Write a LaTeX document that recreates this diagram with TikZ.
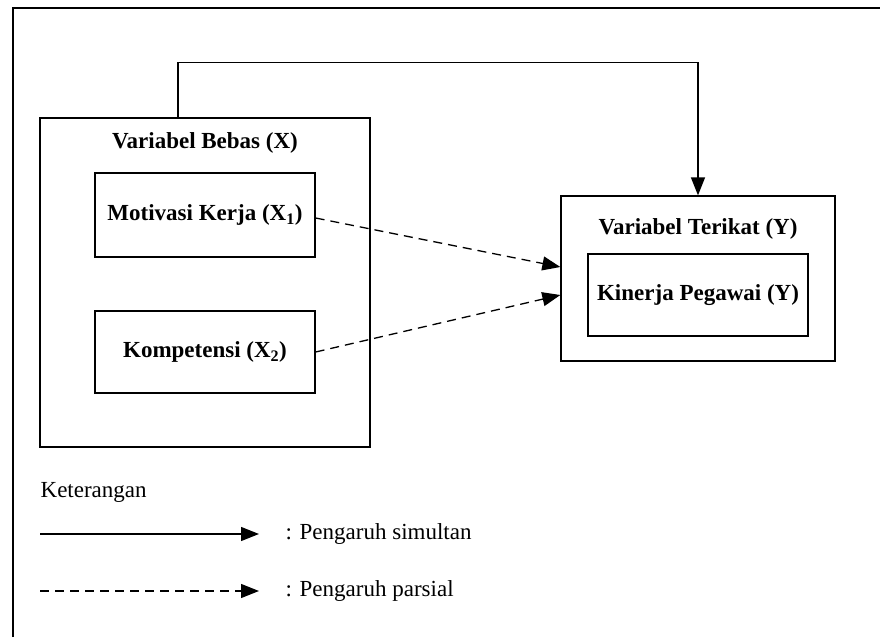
\documentclass[tikz,border=0pt]{standalone}
\usepackage{fontspec}
\setmainfont{Liberation Serif}
\usetikzlibrary{arrows.meta,positioning,calc}

\begin{document}
\begin{tikzpicture}[x=1pt,y=-1pt,>={Triangle[length=18pt,width=14pt]},line width=1.3pt,
  font=\fontsize{23}{27}\selectfont,
  box/.style={draw,minimum width=220pt,minimum height=84pt,inner sep=0pt,font=\fontsize{23}{27}\selectfont\bfseries},
  frame/.style={draw,inner sep=0pt},
  head/.style={font=\fontsize{23}{27}\selectfont\bfseries,inner sep=0pt},
  lab/.style={anchor=west,inner sep=0pt},
  dsh/.style={dash pattern=on 9pt off 6pt}]
\useasboundingbox (0,0) rectangle (880,637);
\draw (13,637) -- (13,8) -- (880,8);
% variabel bebas
\node (xbox) [frame,minimum width=330pt,minimum height=329pt] at (205,282.5) {};
\node (xhead) [head] at (205,143) {Variabel Bebas (X)};
\node (mot) [box] at (205,215) {Motivasi Kerja (X\textsubscript{1})};
\node (komp) [box,minimum height=82pt] at (205,352) {Kompetensi (X\textsubscript{2})};
% variabel terikat
\node (ybox) [frame,minimum width=274pt,minimum height=165pt] at (698,278.5) {};
\node (yhead) [head] at (698,229) {Variabel Terikat (Y)};
\node (kin) [box,minimum height=82pt] at (698,295) {Kinerja Pegawai (Y)};
% pengaruh
\draw[->] ([xshift=-27pt]xbox.north) -- ++(0,-55) -| (ybox.north);
\draw[->,dsh] ([yshift=-3pt]mot.east) -- ([yshift=11.5pt]ybox.west);
\draw[->,dsh] (komp.east) -- ([yshift=-16.5pt]ybox.west);
% keterangan
\node (ket) [lab] at (40,492) {Keterangan};
\coordinate (s1) at (40,534);
\coordinate (s2) at (259,534);
\coordinate (p1) at (40,591);
\coordinate (p2) at (259,591);
\node (sim) [lab] at (285,534) {: Pengaruh simultan};
\node (par) [lab] at (285,591) {: Pengaruh parsial};
\draw[->] (s1) -- (s2);
\draw[->,dsh] (p1) -- (p2);
\end{tikzpicture}
\end{document}
